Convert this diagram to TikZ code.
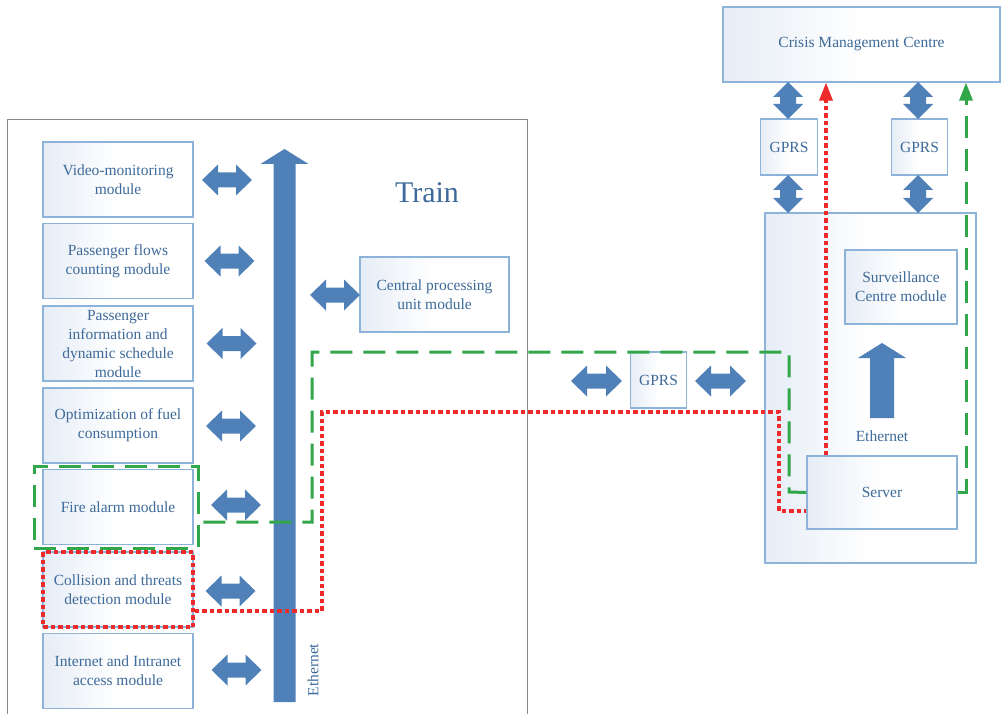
\documentclass[tikz,border=0pt]{standalone}
\usepackage{fontspec}
\setmainfont{Liberation Serif}
\usetikzlibrary{arrows.meta}
\definecolor{txtblue}{HTML}{3D6A9A}
\definecolor{boxline}{HTML}{8DB3DA}
\definecolor{boxshade}{HTML}{E6EDF6}
\definecolor{arrowblue}{HTML}{4F81B8}
\definecolor{dgreen}{HTML}{31A64A}
\definecolor{dred}{HTML}{EE2A2A}
\definecolor{framegray}{HTML}{8A8A8A}
% horizontal double block arrow: centre x, centre y, half length
\newcommand{\HDA}[3]{%
  \fill[arrowblue] ({#1-#3},#2) -- ({#1-#3+16},{#2-15.5}) -- ({#1-#3+16},{#2-7.5}) --
    ({#1+#3-16},{#2-7.5}) -- ({#1+#3-16},{#2-15.5}) -- ({#1+#3},#2) --
    ({#1+#3-16},{#2+15.5}) -- ({#1+#3-16},{#2+7.5}) -- ({#1-#3+16},{#2+7.5}) --
    ({#1-#3+16},{#2+15.5}) -- cycle;}
% vertical double block arrow: centre x, top tip y, bottom tip y
\newcommand{\VDA}[3]{%
  \fill[arrowblue] (#1,#2) -- ({#1+15},{#2+15}) -- ({#1+8},{#2+15}) --
    ({#1+8},{#3-15}) -- ({#1+15},{#3-15}) -- (#1,#3) -- ({#1-15},{#3-15}) --
    ({#1-8},{#3-15}) -- ({#1-8},{#2+15}) -- ({#1-15},{#2+15}) -- cycle;}
% upward single block arrow: centre x, tip y, bottom y, shaft half width
\newcommand{\UPA}[4]{%
  \fill[arrowblue] (#1,#2) -- ({#1+24},{#2+15}) -- ({#1+#4},{#2+15}) --
    ({#1+#4},#3) -- ({#1-#4},#3) -- ({#1-#4},{#2+15}) -- ({#1-24},{#2+15}) -- cycle;}
\begin{document}
\begin{tikzpicture}[x=1pt,y=-1pt,
  box/.style={draw=boxline, line width=1.1pt, left color=boxshade, right color=white,
    middle color=white, text=txtblue, font=\fontsize{15.5pt}{19pt}\selectfont, align=center, inner sep=2pt},
  modbox/.style={box, minimum width=150, minimum height=75},
  gprsbox/.style={box, minimum width=56.5, minimum height=56},
  lbl/.style={text=txtblue, font=\fontsize{15.5pt}{19pt}\selectfont, inner sep=0pt},
  greendash/.style={draw=dgreen, line width=3pt, dash pattern=on 22pt off 11pt},
  reddot/.style={draw=dred, line width=3.2pt, dash pattern=on 4.5pt off 3pt},
  tip/.style={-{Triangle[width=13pt,length=18pt]}}
]
\useasboundingbox (0,0) rectangle (1001,714);

% Train frame
\draw[framegray, line width=1pt] (7,714) -- (7,120) -- (527,120) -- (527,714);
\node[text=txtblue, font=\fontsize{30pt}{34pt}\selectfont, inner sep=0pt] (train) at (427,193) {Train};

% modules on the train
\node[modbox] (vm) at (118,179.5) {Video-monitoring\\module};
\node[modbox] (pf) at (118,261) {Passenger flows\\counting module};
\node[modbox] (pi) at (118,343.5) {Passenger\\information and\\dynamic schedule\\module};
\node[modbox] (of) at (118,425.5) {Optimization of fuel\\consumption};
\node[modbox] (fa) at (118,507) {Fire alarm module};
\node[modbox] (cd) at (118,589.5) {Collision and threats\\detection module};
\node[modbox] (ia) at (118,671) {Internet and Intranet\\access module};
\node[box, minimum width=149, minimum height=75] (cpu) at (434.5,294.5) {Central processing\\unit module};

% Ethernet bus
\UPA{284.5}{149}{702}{11}
\node[lbl, rotate=90] (eth1) at (313,670) {Ethernet};

% module <-> bus arrows
\HDA{227}{180}{25}
\HDA{229.5}{261}{25}
\HDA{231.5}{343.5}{25}
\HDA{231}{426}{25}
\HDA{236}{505}{25}
\HDA{230.5}{591}{25}
\HDA{236.5}{670}{25}
\HDA{335}{295}{25}

% middle GPRS
\node[gprsbox] (gm) at (658.5,380) {GPRS};
\HDA{596.5}{381}{25.5}
\HDA{720.5}{381}{25.5}

% ground side
\node[box, minimum width=211, minimum height=350] (gs) at (870.5,388) {};
\node[box, minimum width=112, minimum height=74] (sc) at (901,287) {Surveillance\\Centre module};
\UPA{882}{343}{418}{12}
\node[lbl] (eth2) at (882,436) {Ethernet};
\node[box, minimum width=150, minimum height=73] (srv) at (882,492.5) {Server};

\node[box, minimum width=277, minimum height=75] (cmc) at (861.5,44.5) {Crisis Management Centre};
\node[gprsbox] (gl) at (789,147) {GPRS};
\node[gprsbox] (gr) at (919.5,147) {GPRS};
\VDA{788}{82}{119}
\VDA{788}{175}{213}
\VDA{918}{82}{119}
\VDA{918}{175}{213}

% fire alarm path (green)
\node[greendash, minimum width=164, minimum height=82, inner sep=0pt] (fg) at (116,507) {};
\draw[greendash] (srv.west) -- (789,492) |- (312,352) |- (fg.east |- 0,522);
\coordinate (gx) at (966,0);
\draw[greendash, tip] (srv.east) -| (gx |- cmc.south);

% collision path (red)
\node[reddot, minimum width=150, minimum height=75, inner sep=0pt] (rb) at (118,589.5) {};
\draw[reddot] (rb.east |- 0,611) -- (322,611) |- (779,412) |- (srv.west |- 0,511);
\coordinate (rx) at (826,0);
\draw[reddot, tip] (rx |- srv.north) -- (rx |- cmc.south);
\end{tikzpicture}
\end{document}
